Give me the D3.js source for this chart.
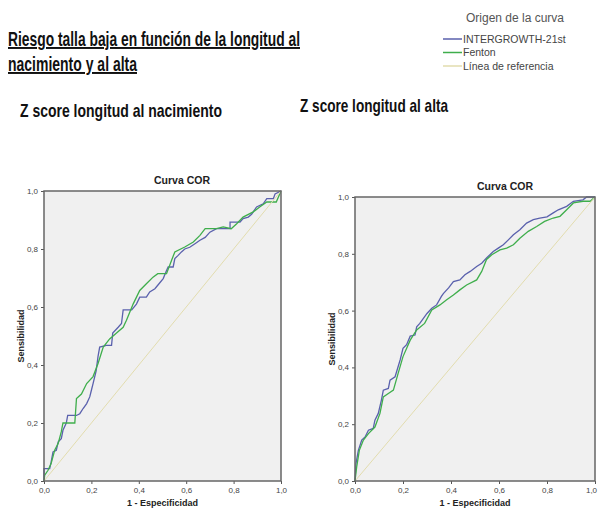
<!DOCTYPE html>
<html>
<head>
<meta charset="utf-8">
<script src="https://cdn.jsdelivr.net/npm/d3@7"></script>
<style>
  body { margin: 0; background: #fff; }
  svg { display: block; }
</style>
</head>
<body>
<svg id="chart" width="598" height="514"></svg>
<script>
// tick labels shared by both ROC plots
const tickValues = [0, 0.2, 0.4, 0.6, 0.8, 1.0];
const seriesNames = ["INTERGROWTH-21st", "Fenton", "Línea de referencia"];
const seriesColors = ["#5a61ad", "#3fae4c", "#e2dcae"];

// [1 - especificidad, sensibilidad]
const nacIntergrowth = [[0,0],[0,0.043],[0.024,0.043],[0.03,0.065],[0.038,0.1],[0.052,0.106],[0.06,0.135],[0.073,0.146],[0.08,0.175],[0.094,0.2],[0.1,0.226],[0.137,0.226],[0.151,0.232],[0.165,0.25],[0.18,0.267],[0.193,0.29],[0.2,0.313],[0.207,0.336],[0.22,0.38],[0.228,0.43],[0.235,0.462],[0.263,0.468],[0.285,0.468],[0.29,0.51],[0.313,0.53],[0.327,0.543],[0.334,0.59],[0.37,0.59],[0.39,0.61],[0.404,0.634],[0.432,0.634],[0.446,0.652],[0.468,0.663],[0.48,0.675],[0.503,0.698],[0.517,0.726],[0.524,0.738],[0.545,0.738],[0.552,0.767],[0.566,0.778],[0.58,0.79],[0.594,0.8],[0.615,0.806],[0.637,0.818],[0.658,0.83],[0.68,0.84],[0.7,0.858],[0.728,0.87],[0.785,0.87],[0.785,0.893],[0.827,0.893],[0.84,0.905],[0.862,0.91],[0.876,0.92],[0.897,0.945],[0.925,0.956],[0.94,0.974],[0.968,0.974],[0.975,0.99],[1,1]];
const nacFenton = [[0,0],[0.003,0.02],[0.017,0.037],[0.03,0.06],[0.045,0.106],[0.06,0.13],[0.073,0.17],[0.08,0.2],[0.115,0.2],[0.13,0.2],[0.137,0.284],[0.158,0.3],[0.18,0.336],[0.207,0.36],[0.228,0.405],[0.25,0.462],[0.277,0.49],[0.306,0.51],[0.334,0.53],[0.348,0.554],[0.376,0.61],[0.404,0.657],[0.432,0.68],[0.46,0.703],[0.48,0.715],[0.517,0.715],[0.538,0.76],[0.552,0.79],[0.594,0.807],[0.63,0.824],[0.658,0.847],[0.68,0.87],[0.728,0.87],[0.756,0.876],[0.79,0.87],[0.813,0.887],[0.84,0.91],[0.883,0.928],[0.91,0.945],[0.94,0.962],[0.98,0.962],[1,1]];
const altaIntergrowth = [[0,0],[0.004,0.061],[0.014,0.108],[0.028,0.144],[0.042,0.155],[0.056,0.179],[0.076,0.185],[0.083,0.214],[0.097,0.238],[0.11,0.285],[0.118,0.32],[0.139,0.326],[0.146,0.355],[0.167,0.367],[0.188,0.426],[0.2,0.467],[0.215,0.48],[0.23,0.51],[0.25,0.514],[0.257,0.543],[0.27,0.555],[0.3,0.59],[0.32,0.608],[0.34,0.62],[0.36,0.65],[0.368,0.66],[0.39,0.68],[0.41,0.702],[0.437,0.708],[0.458,0.726],[0.48,0.738],[0.507,0.755],[0.528,0.767],[0.548,0.785],[0.576,0.808],[0.597,0.82],[0.618,0.832],[0.64,0.85],[0.66,0.867],[0.687,0.885],[0.715,0.908],[0.743,0.92],[0.77,0.926],[0.8,0.93],[0.826,0.944],[0.847,0.955],[0.882,0.967],[0.91,0.985],[0.95,0.99],[0.965,1],[1,1]];
const altaFenton = [[0,0],[0.007,0.05],[0.018,0.108],[0.035,0.144],[0.056,0.167],[0.083,0.19],[0.104,0.238],[0.118,0.296],[0.139,0.308],[0.16,0.32],[0.18,0.38],[0.2,0.438],[0.23,0.496],[0.257,0.532],[0.29,0.555],[0.32,0.602],[0.354,0.62],[0.382,0.638],[0.41,0.655],[0.437,0.673],[0.465,0.69],[0.507,0.708],[0.528,0.738],[0.548,0.78],[0.57,0.797],[0.604,0.814],[0.632,0.82],[0.66,0.832],[0.687,0.855],[0.722,0.879],[0.757,0.896],[0.79,0.914],[0.826,0.926],[0.854,0.932],[0.882,0.955],[0.91,0.979],[0.95,0.985],[0.98,0.985],[1,1]];
const referencia = [[0,0],[1,1]];

const svg = d3.select("#chart");
const titleFont = "'Liberation Sans', Arial, sans-serif";

// headings: the original face is a condensed bold, so squeeze to the measured width
function heading(t, x, y, size, width, underline) {
    svg.append("text")
        .attr("x", x).attr("y", y)
        .attr("font-family", titleFont)
        .attr("font-weight", "bold")
        .attr("font-size", size)
        .attr("textLength", width)
        .attr("lengthAdjust", "spacingAndGlyphs")
        .attr("text-decoration", underline ? "underline" : null)
        .attr("fill", "#111")
        .text(t);
}
heading("Riesgo talla baja en función de la longitud al", 8, 46, 19.5, 292, true);
heading("nacimiento y al alta", 8, 71, 19.5, 129, true);
heading("Z score longitud al nacimiento", 20, 117, 18.5, 202, false);
heading("Z score longitud al alta", 300, 112, 18.5, 148, false);

// legend
const legend = svg.append("g").attr("font-family", "Arial, 'Liberation Sans', sans-serif");
legend.append("text").attr("x", 515).attr("y", 22)
    .attr("text-anchor", "middle").attr("font-size", 12).attr("fill", "#555")
    .text("Origen de la curva");
seriesNames.forEach((name, i) => {
    const y = 39 + i * 13.5;
    legend.append("line").attr("x1", 443).attr("x2", 462).attr("y1", y).attr("y2", y)
        .attr("stroke", seriesColors[i]).attr("stroke-width", 1.5);
    legend.append("text").attr("x", 463).attr("y", y + 3.5)
        .attr("font-size", 10.5).attr("fill", "#444").text(name);
});

function rocPanel(box, curves) {
    const x = d3.scaleLinear().domain([0, 1]).range([box.left, box.right]);
    const y = d3.scaleLinear().domain([0, 1]).range([box.bottom, box.top]);
    const g = svg.append("g").attr("font-family", "Arial, 'Liberation Sans', sans-serif");

    g.append("rect")
        .attr("x", x(0)).attr("y", y(1))
        .attr("width", x(1) - x(0)).attr("height", y(0) - y(1))
        .attr("fill", "#f0f0f0");

    const fmt = d => d3.format(".1f")(d).replace(".", ",");
    const xAxis = g.append("g").attr("transform", `translate(0,${box.bottom})`)
        .call(d3.axisBottom(x).tickValues(tickValues).tickFormat(fmt).tickSize(3).tickSizeOuter(0));
    const yAxis = g.append("g").attr("transform", `translate(${box.left},0)`)
        .call(d3.axisLeft(y).tickValues(tickValues).tickFormat(fmt).tickSize(3).tickSizeOuter(0));
    [xAxis, yAxis].forEach(a => {
        a.select(".domain").remove();
        a.selectAll("line").attr("stroke", "#555");
        a.selectAll("text").attr("font-size", 8).attr("fill", "#444");
    });
    if (box.lastTickShift) {
        xAxis.selectAll(".tick:last-of-type text").attr("dx", box.lastTickShift);
    }

    const line = d3.line().x(d => x(d[0])).y(d => y(d[1]));
    curves.forEach((c, i) => {
        g.append("path").datum(c)
            .attr("d", line)
            .attr("fill", "none")
            .attr("stroke", seriesColors[i])
            .attr("stroke-width", i == 2 ? 1 : 1.3);
    });
    g.append("rect")
        .attr("x", x(0)).attr("y", y(1))
        .attr("width", x(1) - x(0)).attr("height", y(0) - y(1))
        .attr("fill", "none").attr("stroke", "#666").attr("stroke-width", 1.5);

    g.append("text").attr("x", box.titleX).attr("y", box.top - 7)
        .attr("text-anchor", "middle").attr("font-weight", "bold")
        .attr("font-size", 10.5).attr("fill", "#222").text("Curva COR");
    g.append("text").attr("x", (box.left + box.right) / 2).attr("y", box.bottom + 25)
        .attr("text-anchor", "middle").attr("font-weight", "bold")
        .attr("font-size", 9).attr("fill", "#222").text("1 - Especificidad");
    g.append("text")
        .attr("transform", `translate(${box.yTitleX},${(box.top + box.bottom) / 2}) rotate(-90)`)
        .attr("text-anchor", "middle").attr("font-weight", "bold")
        .attr("font-size", 9).attr("fill", "#222").text("Sensibilidad");
}

rocPanel({left: 44, right: 281, top: 191, bottom: 481, titleX: 182, yTitleX: 24},
    [nacIntergrowth, nacFenton, referencia]);
rocPanel({left: 355, right: 595, top: 197, bottom: 481, titleX: 505, yTitleX: 335, lastTickShift: -4},
    [altaIntergrowth, altaFenton, referencia]);
</script>
</body>
</html>
